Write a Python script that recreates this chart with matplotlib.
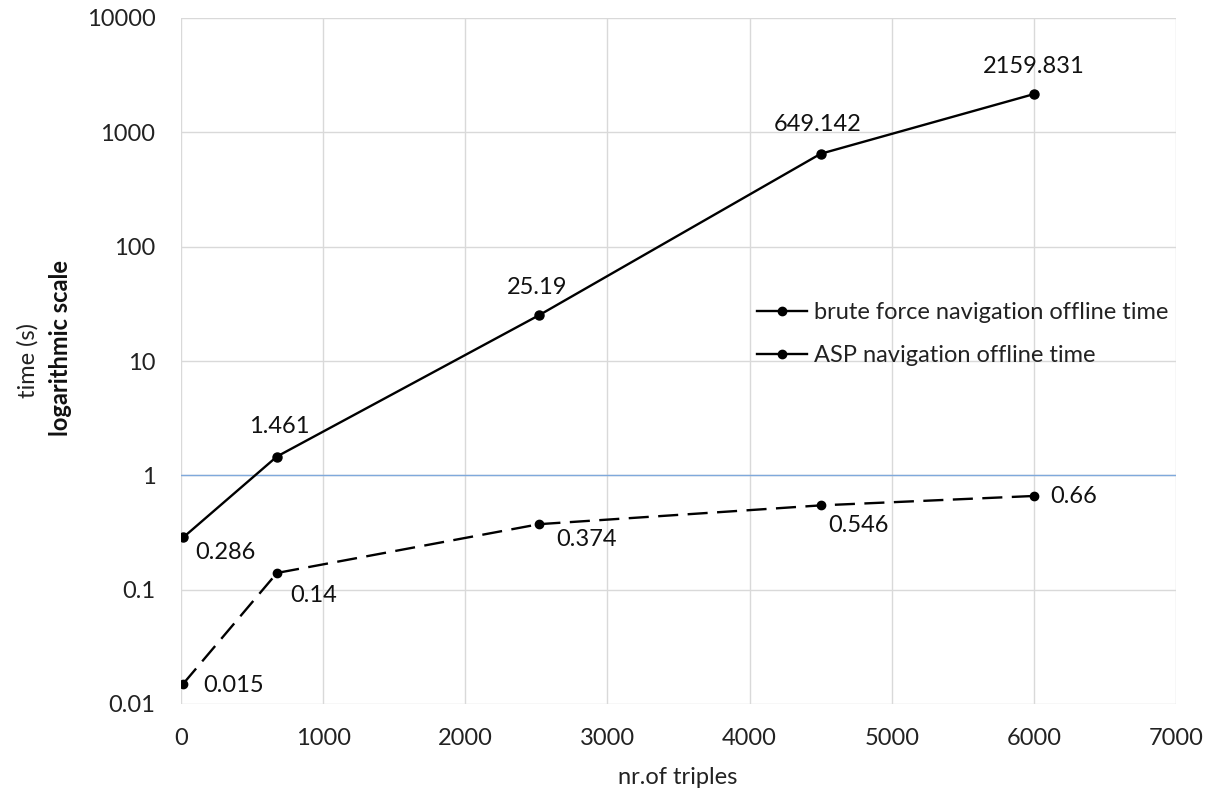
import matplotlib
matplotlib.use("Agg")
import matplotlib.pyplot as plt
from matplotlib.lines import Line2D

plt.rcParams['font.family'] = ['Lato', 'DejaVu Sans']

triples = [15, 675, 2520, 4500, 6000]
brute_force = [0.286, 1.461, 25.19, 649.142, 2159.831]
asp = [0.015, 0.14, 0.374, 0.546, 0.66]
brute_labels = ["0.286", "1.461", "25.19", "649.142", "2159.831"]
asp_labels = ["0.015", "0.14", "0.374", "0.546", "0.66"]
x_ticks = [0, 1000, 2000, 3000, 4000, 5000, 6000, 7000]
y_ticks = [0.01, 0.1, 1, 10, 100, 1000, 10000]
y_tick_labels = ["0.01", "0.1", "1", "10", "100", "1000", "10000"]

FS = 17

fig = plt.figure(figsize=(12.19, 8), dpi=100)
ax = fig.add_axes([181/1219, 1-704/800, (1176-181)/1219, (704-18)/800])

ax.set_yscale('log')
ax.set_xlim(0, 7000)
ax.set_ylim(0.01, 10000)
ax.set_xticks(x_ticks)
ax.set_xticklabels([str(t) for t in x_ticks])
ax.set_yticks(y_ticks)
ax.set_yticklabels(y_tick_labels)
ax.minorticks_off()
ax.tick_params(axis='both', length=0, labelsize=FS, colors='#222222')
ax.tick_params(axis='y', pad=18.5)
ax.tick_params(axis='x', pad=17)
ax.grid(True, color='#d9d9d9', linewidth=1)
ax.set_axisbelow(True)
for s in ax.spines.values():
    s.set_visible(False)
ax.axhline(1, color='#7fa9dc', linewidth=1, zorder=1.5)

ax.plot(triples, brute_force, color='black', linewidth=1.7, marker='o', markersize=6.5, zorder=3)
ax.plot(triples, asp, color='black', linewidth=1.7, marker='o', markersize=6, dashes=(8.5, 4), zorder=3)

brute_offsets = [(12, -15, 'left', 'center'), (2, 30, 'center', 'center'), (-2, 28, 'center', 'center'),
                 (-3, 29, 'center', 'center'), (0, 28, 'center', 'center')]
for x, y, lab, (dx, dy, ha, va) in zip(triples, brute_force, brute_labels, brute_offsets):
    ax.annotate(lab, (x, y), xytext=(dx, dy), textcoords='offset pixels', ha=ha, va=va,
                fontsize=FS, color='#111111')

asp_offsets = [(20, -2, 'left', 'center'), (13, -23, 'left', 'center'), (17, -15, 'left', 'center'),
               (8, -20, 'left', 'center'), (16, -1, 'left', 'center')]
for x, y, lab, (dx, dy, ha, va) in zip(triples, asp, asp_labels, asp_offsets):
    ax.annotate(lab, (x, y), xytext=(dx, dy), textcoords='offset pixels', ha=ha, va=va,
                fontsize=FS, color='#111111')

handles = [Line2D([], [], color='black', linewidth=1.7, marker='o', markersize=6),
           Line2D([], [], color='black', linewidth=1.7, marker='o', markersize=6)]
leg = ax.legend(handles, ["brute force navigation offline time", "ASP navigation offline time"],
                loc='center left', bbox_to_anchor=((757-181)/995, 1-(334-18)/686),
                frameon=False, fontsize=FS, handlelength=2.1, handletextpad=0.3,
                labelspacing=0.92, labelcolor='#222222', borderaxespad=0, borderpad=0)

fig.text(678/1219, 1-777/800, "nr.of triples", ha='center', va='center', fontsize=FS, color='#222222')
fig.text(28/1219, 1-361/800, "time (s)", rotation=90, ha='center', va='center', fontsize=FS, color='#222222')
fig.text(60/1219, 1-348/800, "logarithmic scale", rotation=90, ha='center', va='center', fontsize=FS,
         fontweight='bold', color='#111111')

fig.savefig("out.png", dpi=100)
